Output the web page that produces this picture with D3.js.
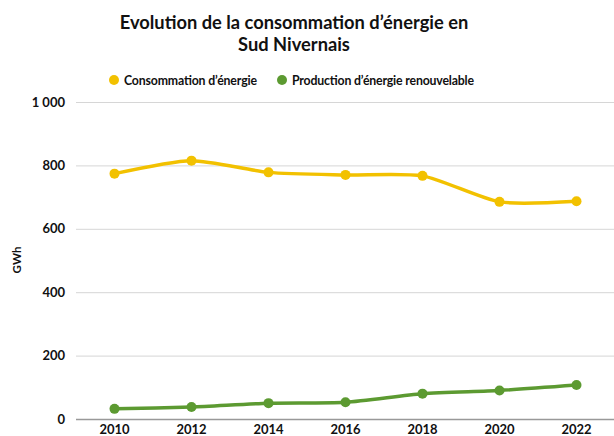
<!DOCTYPE html>
<html>
<head>
<meta charset="utf-8">
<script src="https://cdn.jsdelivr.net/npm/d3@7"></script>
<style>
  body { margin: 0; background: #fff; }
  text { font-family: "Lato", "Open Sans", sans-serif; font-weight: 700; fill: #111; }
</style>
</head>
<body>
<div id="chart"></div>
<script>
const years = ["2010", "2012", "2014", "2016", "2018", "2020", "2022"];
const consommation = [774, 815, 778, 770, 767, 685, 687];
const production = [32, 38, 50, 53, 80, 90, 107];
const yTicks = [0, 200, 400, 600, 800, 1000];

const width = 614;
const height = 436;
const plotLeft = 76, plotRight = 615, plotTop = 102, plotBottom = 419;

const svg = d3.select("#chart").append("svg")
  .attr("width", width)
  .attr("height", height);

const x = d3.scaleBand().domain(years).range([plotLeft, plotRight]);
const y = d3.scaleLinear().domain([0, 1000]).range([plotBottom, plotTop]);

// title
svg.append("text").attr("x", 294).attr("y", 29).attr("text-anchor", "middle")
  .style("font-size", "18.3px").text("Evolution de la consommation d’énergie en");
svg.append("text").attr("x", 294).attr("y", 51).attr("text-anchor", "middle")
  .style("font-size", "18.3px").text("Sud Nivernais");

// legend
const legend = [
  { name: "Consommation d’énergie", color: "#f2c100", x: 114, w: 133 },
  { name: "Production d’énergie renouvelable", color: "#5c9a31", x: 282, w: 182 }
];
legend.forEach(l => {
  svg.append("circle").attr("cx", l.x).attr("cy", 80).attr("r", 5).attr("fill", l.color);
  svg.append("text").attr("x", l.x + 10).attr("y", 84.5)
    .attr("textLength", l.w).attr("lengthAdjust", "spacing")
    .style("font-size", "12.3px").text(l.name);
});

// gridlines
svg.append("g").selectAll("line").data(yTicks).join("line")
  .attr("x1", plotLeft).attr("x2", width)
  .attr("y1", d => y(d) + 0.5).attr("y2", d => y(d) + 0.5)
  .attr("stroke", d => d === 0 ? "#999" : "#d6d6d6")
  .attr("stroke-width", d => d === 0 ? 1.5 : 1);

// y axis labels
const fmt = d => d >= 1000 ? d3.format(",")(d).replace(",", " ") : d;
svg.append("g").selectAll("text").data(yTicks).join("text")
  .attr("x", 65).attr("y", d => y(d) + 4.5)
  .attr("text-anchor", "end").style("font-size", "13px")
  .text(fmt);

svg.append("text")
  .attr("transform", "translate(21,260) rotate(-90)")
  .attr("text-anchor", "middle").style("font-size", "11.5px").text("GWh");

// x axis labels
svg.append("g").selectAll("text").data(years).join("text")
  .attr("x", d => x(d) + x.bandwidth() / 2).attr("y", 434)
  .attr("text-anchor", "middle").style("font-size", "13px")
  .text(d => d);

const series = [
  { values: consommation, color: "#f2c100" },
  { values: production, color: "#5c9a31" }
];

const line = d3.line()
  .x((d, i) => x(years[i]) + x.bandwidth() / 2)
  .y(d => y(d))
  .curve(d3.curveCardinal.tension(0.3));

series.forEach(s => {
  svg.append("path").datum(s.values)
    .attr("d", line)
    .attr("fill", "none")
    .attr("stroke", s.color)
    .attr("stroke-width", 3.5)
    .attr("stroke-linecap", "round");
  svg.append("g").selectAll("circle").data(s.values).join("circle")
    .attr("cx", (d, i) => x(years[i]) + x.bandwidth() / 2)
    .attr("cy", d => y(d))
    .attr("r", 5)
    .attr("fill", s.color);
});
</script>
</body>
</html>
